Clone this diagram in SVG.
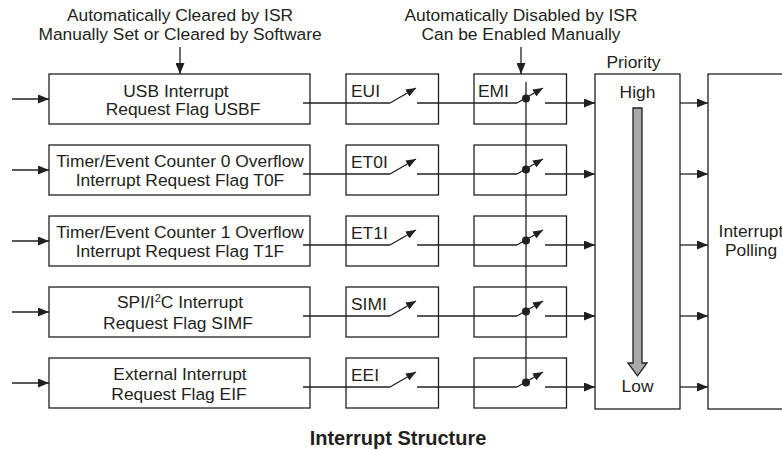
<svg xmlns="http://www.w3.org/2000/svg" width="782" height="450" viewBox="0 0 782 450">
<style>
text{font-family:"Liberation Sans",Arial,sans-serif;font-size:17.4px;fill:#231f20}
.m{text-anchor:middle}
.cap{font-weight:bold;font-size:20px}
.box{fill:#fff;stroke:#231f20;stroke-width:1.3}
.ln{fill:none;stroke:#231f20;stroke-width:1.3}
.arr{marker-end:url(#ah)}
.sw{marker-end:url(#sh)}
.dot{fill:#231f20}
</style>
<defs>
<marker id="ah" viewBox="0 0 11 9" refX="11" refY="4.5" markerWidth="11" markerHeight="9" markerUnits="userSpaceOnUse" orient="auto"><path d="M0,0 L11,4.5 L0,9 Z" fill="#231f20"/></marker>
<marker id="sh" viewBox="0 0 10 8" refX="10" refY="4" markerWidth="10" markerHeight="8" markerUnits="userSpaceOnUse" orient="auto"><path d="M0,0 L10,4 L0,8 Z" fill="#231f20"/></marker>
</defs>

<g id="label-flags">
<text class="m" x="180" y="20.5">Automatically Cleared by ISR</text>
<text class="m" x="180" y="40">Manually Set or Cleared by Software</text>
</g>
<g id="label-emi">
<text class="m" x="521" y="20.5">Automatically Disabled by ISR</text>
<text class="m" x="521" y="40">Can be Enabled Manually</text>
</g>

<g id="flag-usbf"><rect class="box" x="49" y="74" width="261" height="50"/>
<text class="m" x="176" y="96.5">USB Interrupt</text><text class="m" x="183" y="115">Request Flag USBF</text></g>
<g id="flag-t0f"><rect class="box" x="49" y="145" width="261" height="50"/>
<text class="m" x="180" y="166.5">Timer/Event Counter 0 Overflow</text><text class="m" x="180" y="186">Interrupt Request Flag T0F</text></g>
<g id="flag-t1f"><rect class="box" x="49" y="216" width="261" height="50"/>
<text class="m" x="180" y="237.5">Timer/Event Counter 1 Overflow</text><text class="m" x="180" y="257">Interrupt Request Flag T1F</text></g>
<g id="flag-simf"><rect class="box" x="49" y="287" width="261" height="50"/>
<text class="m" x="180" y="308">SPI/I<tspan font-size="11" dy="-6">2</tspan><tspan dy="6">C Interrupt</tspan></text><text class="m" x="178" y="328.5">Request Flag SIMF</text></g>
<g id="flag-eif"><rect class="box" x="49" y="358" width="261" height="50"/>
<text class="m" x="180" y="379.5">External Interrupt</text><text class="m" x="179" y="399.5">Request Flag EIF</text></g>

<g id="en-eui"><rect class="box" x="346" y="74" width="92.5" height="50"/><text x="351" y="97">EUI</text></g>
<g id="en-et0i"><rect class="box" x="346" y="145" width="92.5" height="50"/><text x="351" y="168">ET0I</text></g>
<g id="en-et1i"><rect class="box" x="346" y="216" width="92.5" height="50"/><text x="351" y="239">ET1I</text></g>
<g id="en-simi"><rect class="box" x="346" y="287" width="92.5" height="50"/><text x="351" y="310">SIMI</text></g>
<g id="en-eei"><rect class="box" x="346" y="358" width="92.5" height="50"/><text x="351" y="381">EEI</text></g>

<g id="emi-1"><rect class="box" x="474" y="74" width="92.5" height="50"/><text x="478" y="97">EMI</text></g>
<g id="emi-2"><rect class="box" x="474" y="145" width="92.5" height="50"/></g>
<g id="emi-3"><rect class="box" x="474" y="216" width="92.5" height="50"/></g>
<g id="emi-4"><rect class="box" x="474" y="287" width="92.5" height="50"/></g>
<g id="emi-5"><rect class="box" x="474" y="358" width="92.5" height="50"/></g>

<g id="priority">
<rect class="box" x="595" y="74" width="85" height="335"/>
<text class="m" x="633.5" y="68">Priority</text>
<text class="m" x="637.5" y="98">High</text>
<path d="M633,108 H642 V363 H647 L637.5,376 L628,363 H633 Z" fill="#a7a9ac" stroke="#231f20" stroke-width="1.3"/>
<text class="m" x="637.5" y="391.5">Low</text>
</g>

<g id="polling">
<rect class="box" x="708" y="74" width="100" height="335"/>
<text class="m" x="751" y="237">Interrupt</text>
<text class="m" x="751" y="256">Polling</text>
</g>

<g id="connectors">
<line class="ln arr" x1="180" y1="47" x2="180" y2="74"/>
<line class="ln arr" x1="521" y1="47" x2="521" y2="74"/>
<line class="ln" x1="526" y1="82" x2="526" y2="383"/>

<line class="ln arr" x1="12" y1="99" x2="49" y2="99"/>
<line class="ln arr" x1="12" y1="170" x2="49" y2="170"/>
<line class="ln arr" x1="12" y1="241" x2="49" y2="241"/>
<line class="ln arr" x1="12" y1="312" x2="49" y2="312"/>
<line class="ln arr" x1="12" y1="383" x2="49" y2="383"/>

<path class="ln" d="M303,103 H390"/><line class="ln sw" x1="390" y1="103" x2="416" y2="88"/>
<path class="ln" d="M417,103 H517"/><line class="ln sw" x1="517" y1="103" x2="543" y2="88"/>
<circle class="dot" cx="526" cy="98.5" r="4"/>
<line class="ln arr" x1="545" y1="103" x2="595" y2="103"/>
<line class="ln arr" x1="680" y1="103" x2="708" y2="103"/>

<path class="ln" d="M303,174 H390"/><line class="ln sw" x1="390" y1="174" x2="416" y2="159"/>
<path class="ln" d="M417,174 H517"/><line class="ln sw" x1="517" y1="174" x2="543" y2="159"/>
<circle class="dot" cx="526" cy="169.5" r="4"/>
<line class="ln arr" x1="545" y1="174" x2="595" y2="174"/>
<line class="ln arr" x1="680" y1="174" x2="708" y2="174"/>

<path class="ln" d="M303,245 H390"/><line class="ln sw" x1="390" y1="245" x2="416" y2="230"/>
<path class="ln" d="M417,245 H517"/><line class="ln sw" x1="517" y1="245" x2="543" y2="230"/>
<circle class="dot" cx="526" cy="240.5" r="4"/>
<line class="ln arr" x1="545" y1="245" x2="595" y2="245"/>
<line class="ln arr" x1="680" y1="245" x2="708" y2="245"/>

<path class="ln" d="M303,316 H390"/><line class="ln sw" x1="390" y1="316" x2="416" y2="301"/>
<path class="ln" d="M417,316 H517"/><line class="ln sw" x1="517" y1="316" x2="543" y2="301"/>
<circle class="dot" cx="526" cy="311.5" r="4"/>
<line class="ln arr" x1="545" y1="316" x2="595" y2="316"/>
<line class="ln arr" x1="680" y1="316" x2="708" y2="316"/>

<path class="ln" d="M303,387 H390"/><line class="ln sw" x1="390" y1="387" x2="416" y2="372"/>
<path class="ln" d="M417,387 H517"/><line class="ln sw" x1="517" y1="387" x2="543" y2="372"/>
<circle class="dot" cx="526" cy="382.5" r="4"/>
<line class="ln arr" x1="545" y1="387" x2="595" y2="387"/>
<line class="ln arr" x1="680" y1="387" x2="708" y2="387"/>
</g>

<text class="m cap" x="398" y="445">Interrupt Structure</text>
</svg>
